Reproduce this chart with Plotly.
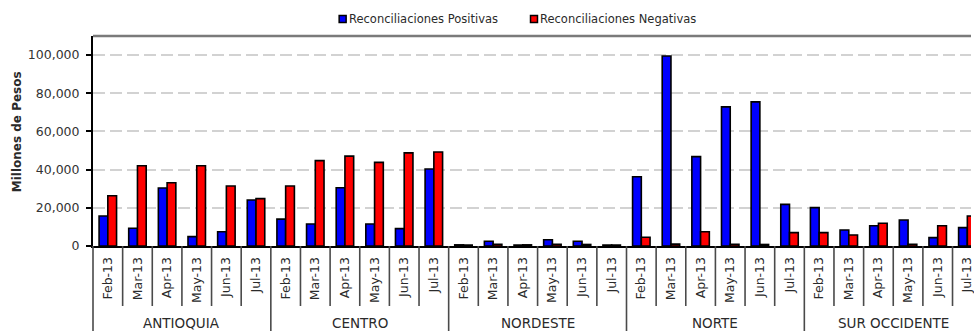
import plotly.graph_objects as go

# --- data -------------------------------------------------------------
regions = ["ANTIOQUIA", "CENTRO", "NORDESTE", "NORTE", "SUR OCCIDENTE"]
months = ["Feb-13", "Mar-13", "Apr-13", "May-13", "Jun-13", "Jul-13"]

series_pos = "Reconciliaciones Positivas"
series_neg = "Reconciliaciones Negativas"

positivas = {
    "ANTIOQUIA":     [15700, 9300, 30400, 4900, 7500, 24100],
    "CENTRO":        [14100, 11500, 30500, 11500, 9100, 40300],
    "NORDESTE":      [600, 2500, 500, 3300, 2500, 500],
    "NORTE":         [36300, 99500, 46800, 72900, 75500, 21800],
    "SUR OCCIDENTE": [20100, 8400, 10600, 13600, 4400, 9600],
}
negativas = {
    "ANTIOQUIA":     [26300, 42000, 33100, 42000, 31400, 24800],
    "CENTRO":        [31400, 44700, 47100, 43800, 48800, 49200],
    "NORDESTE":      [500, 900, 600, 900, 800, 500],
    "NORTE":         [4600, 1000, 7500, 900, 800, 7000],
    "SUR OCCIDENTE": [7000, 5800, 11900, 900, 10600, 15700],
}

y_ticks = [0, 20000, 40000, 60000, 80000, 100000]
y_title = "Millones de Pesos"

# --- flatten region x month into one numeric slot axis -----------------
slot_x, slot_labels, vals_pos, vals_neg = [], [], [], []
for r_i, reg in enumerate(regions):
    for m_i, mon in enumerate(months):
        slot_x.append(r_i * len(months) + m_i)
        slot_labels.append(mon)
        vals_pos.append(positivas[reg][m_i])
        vals_neg.append(negativas[reg][m_i])

FONT = "DejaVu Sans"
TXT = "#2a2a2a"
BLUE = "#0000FF"
RED = "#FF0000"

W, H = 974, 331
ML, MR, MT, MB = 93, 0, 36, 85
plot_w = W - ML - MR
plot_h = H - MT - MB

fig = go.Figure()
fig.add_trace(go.Bar(x=slot_x, y=vals_pos, name=series_pos,
                     marker=dict(color=BLUE, line=dict(color="black", width=1.6)),
                     showlegend=False))
fig.add_trace(go.Bar(x=slot_x, y=vals_neg, name=series_neg,
                     marker=dict(color=RED, line=dict(color="black", width=1.6)),
                     showlegend=False))

def px_x(px):
    return (px - ML) / plot_w

def px_y(py):
    return (MT + plot_h - py) / plot_h

shapes = []
annotations = []

# frame line across the top of the plot area
shapes.append(dict(type="line", xref="paper", yref="paper", x0=0, x1=1, y0=1, y1=1,
                   line=dict(color="#7a7a7a", width=2.5), layer="above"))

# category separators under the axis: short between months, long between regions
n = len(months)
for k in range(1, len(slot_x) + 1):
    xpos = k - 0.5
    is_region_edge = (k % n == 0)
    shapes.append(dict(type="line", xref="x", yref="paper", x0=xpos, x1=xpos,
                       y0=0, y1=px_y(331) if is_region_edge else px_y(306),
                       line=dict(color="#4a4a4a", width=1.6)))
# left axis continues down past the labels
shapes.append(dict(type="line", xref="paper", yref="paper", x0=0, x1=0,
                   y0=0, y1=px_y(331), line=dict(color="#4a4a4a", width=1.6)))

# region names
for r_i, reg in enumerate(regions):
    annotations.append(dict(x=r_i * n + (n - 1) / 2, y=px_y(323), xref="x", yref="paper",
                            text=reg, showarrow=False, xanchor="center", yanchor="middle",
                            font=dict(family=FONT, size=13.5, color=TXT)))

# y-axis title
annotations.append(dict(x=px_x(17), y=px_y(132), xref="paper", yref="paper",
                        text="<b>" + y_title + "</b>", textangle=-90, showarrow=False,
                        xanchor="center", yanchor="middle",
                        font=dict(family=FONT, size=12, color=TXT)))

# legend: small outlined squares followed by the series names
for sq_x, color, label in [(340, BLUE, series_pos), (532, RED, series_neg)]:
    shapes.append(dict(type="rect", xref="paper", yref="paper",
                       x0=px_x(sq_x), x1=px_x(sq_x + 7), y0=px_y(22.5), y1=px_y(15.5),
                       fillcolor=color, line=dict(color="black", width=1.5)))
    annotations.append(dict(x=px_x(sq_x + 8), y=px_y(19), xref="paper", yref="paper",
                            text=label, showarrow=False, xanchor="left", yanchor="middle",
                            font=dict(family=FONT, size=11.5, color=TXT)))

x_right = -0.5 + (W - ML) / 29.74

fig.update_layout(
    width=W, height=H, autosize=False,
    margin=dict(l=ML, r=MR, t=MT, b=MB, pad=0),
    paper_bgcolor="white", plot_bgcolor="white",
    barmode="group", bargap=0.41, bargroupgap=0,
    showlegend=False,
    shapes=shapes, annotations=annotations,
    xaxis=dict(range=[-0.5, x_right], tickmode="array", tickvals=slot_x, ticktext=slot_labels,
               tickangle=-90, ticks="", showline=True, linecolor="black", linewidth=2,
               showgrid=False, zeroline=False, ticklabelstandoff=4,
               ticklabeloverflow="allow",
               tickfont=dict(family=FONT, size=12.5, color=TXT), fixedrange=True),
    yaxis=dict(range=[0, 110000], tickmode="array", tickvals=y_ticks, tickformat=",",
               ticks="outside", ticklen=5, tickwidth=1.5, tickcolor="black",
               showline=True, linecolor="black", linewidth=2,
               showgrid=True, gridcolor="#d2d2d2", gridwidth=2, griddash="12px,5px",
               zeroline=False, ticklabelstandoff=4,
               tickfont=dict(family=FONT, size=12.5, color="#333333"), fixedrange=True),
)

fig.write_html("out.html")
